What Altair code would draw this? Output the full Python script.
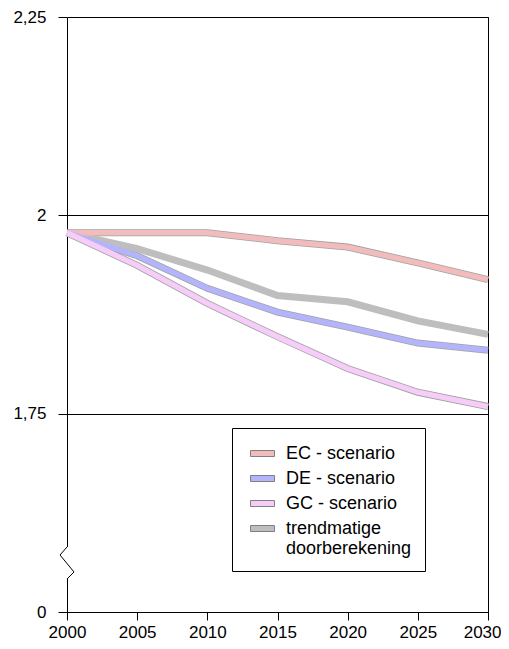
import pandas as pd
import altair as alt

# ── data ─────────────────────────────────────────────────────────────────────
years = [2000, 2005, 2010, 2015, 2020, 2025, 2030]
ec_scenario = [1.978, 1.978, 1.978, 1.968, 1.960, 1.940, 1.919]
de_scenario = [1.978, 1.949, 1.908, 1.878, 1.859, 1.839, 1.830]
gc_scenario = [1.978, 1.937, 1.889, 1.847, 1.807, 1.777, 1.759]
trendmatig = [1.978, 1.958, 1.931, 1.899, 1.891, 1.867, 1.850]

series_names = ["EC - scenario", "DE - scenario", "GC - scenario",
                "trendmatige doorberekening"]
series_colors = ["#F2BCBC", "#B4B4FC", "#F6CCF8", "#BEBEBE"]
y_ticks = [1.5, 1.75, 2.0, 2.25]   # 1.5 is shown as "0" (broken axis)
x_ticks = [2000, 2005, 2010, 2015, 2020, 2025, 2030]

FONT = "Liberation Sans"
W, H = 421, 595

rows = []
for name, vals in zip(series_names, [ec_scenario, de_scenario, gc_scenario, trendmatig]):
    for yr, v in zip(years, vals):
        rows.append({"jaar": yr, "waarde": v, "reeks": name})
df = pd.DataFrame(rows)

x_enc = alt.X(
    "jaar:Q",
    scale=alt.Scale(domain=[2000, 2030], nice=False, zero=False),
    axis=alt.Axis(values=x_ticks, format="d", title=None, grid=False,
                  tickSize=8, labelPadding=4, domainColor="black",
                  tickColor="black", labelFlush=False,
                  # last label would run off the page: pin its right edge
                  labelAlign={"condition": {"test": "datum.value == 2030", "value": "right"},
                              "value": "center"},
                  labelOffset={"condition": {"test": "datum.value == 2030", "value": 13},
                               "value": 0}),
)
y_enc = alt.Y(
    "waarde:Q",
    scale=alt.Scale(domain=[1.5, 2.25], nice=False, zero=False),
    axis=alt.Axis(values=y_ticks, title=None, grid=True, gridColor="black",
                  gridOpacity=1, domain=False, tickSize=9, labelPadding=12,
                  tickColor="black", labelFlush=False,
                  labelExpr="datum.value == 1.5 ? '0' : replace(toString(datum.value), '.', ',')"),
)

line_scale = alt.Scale(domain=series_names, range=series_colors)

# gray outline under the three scenario lines
outline = (
    alt.Chart(df)
    .transform_filter(alt.datum.reeks != "trendmatige doorberekening")
    .mark_line(strokeWidth=7, color="#A2A2A2")
    .encode(x=x_enc, y=y_enc, detail="reeks:N")
)

trend_line = (
    alt.Chart(df)
    .transform_filter(alt.datum.reeks == "trendmatige doorberekening")
    .mark_line(strokeWidth=7)
    .encode(x=x_enc, y=y_enc,
            color=alt.Color("reeks:N", scale=line_scale, legend=None))
)

scen_lines = (
    alt.Chart(df)
    .transform_filter(alt.datum.reeks != "trendmatige doorberekening")
    .mark_line(strokeWidth=5.4)
    .encode(x=x_enc, y=y_enc,
            color=alt.Color("reeks:N", scale=line_scale, legend=None))
)

# legend only: invisible points whose fill scale carries the four entries
legend_layer = (
    alt.Chart(df)
    .mark_square(size=0, opacity=1)
    .encode(
        x=x_enc, y=y_enc,
        fill=alt.Fill(
            "reeks:N", scale=alt.Scale(domain=series_names, range=series_colors),
            legend=alt.Legend(
                title=None, orient="none", legendX=165, legendY=411,
                padding=13, symbolOffset=5, strokeColor="black",
                fillColor="white", symbolType="M-1,-0.25H1V0.25H-1Z",
                symbolSize=576, symbolStrokeColor="#808080",
                symbolStrokeWidth=1,
                labelFont=FONT, labelFontSize=18, labelLimit=0,
                labelColor="black", labelOffset=11, rowPadding=3,
                labelExpr="datum.label == 'trendmatige doorberekening' ? ['trendmatige', 'doorberekening'] : datum.label",
            ),
        ),
    )
)

# ── axis break on the left edge ──────────────────────────────────────────────
one = pd.DataFrame({"k": [0]})
cover = alt.Chart(one).mark_rule(color="white", strokeWidth=4).encode(
    x=alt.value(0), y=alt.value(530), y2=alt.value(562))
zig = [(0, 530, -7, 538), (-7, 538, 7, 555), (7, 555, 0, 562)]
zig_rules = [
    alt.Chart(one).mark_rule(color="black", strokeWidth=1).encode(
        x=alt.value(a), y=alt.value(b), x2=alt.value(c), y2=alt.value(d))
    for a, b, c, d in zig
]

chart = (
    alt.layer(outline, trend_line, scen_lines, legend_layer, cover, *zig_rules)
    .resolve_scale(color="independent", fill="independent")
    .properties(width=W, height=H,
                autosize=alt.AutoSizeParams(type="none"),
                padding={"left": 59, "top": 9, "right": 13, "bottom": 29})
    .configure(background="white")
    .configure_view(stroke="black", strokeWidth=1)
    .configure_axis(labelFont=FONT, labelFontSize=17, labelColor="black")
)

chart.save("out.html", embed_options={"renderer": "svg", "actions": False})
